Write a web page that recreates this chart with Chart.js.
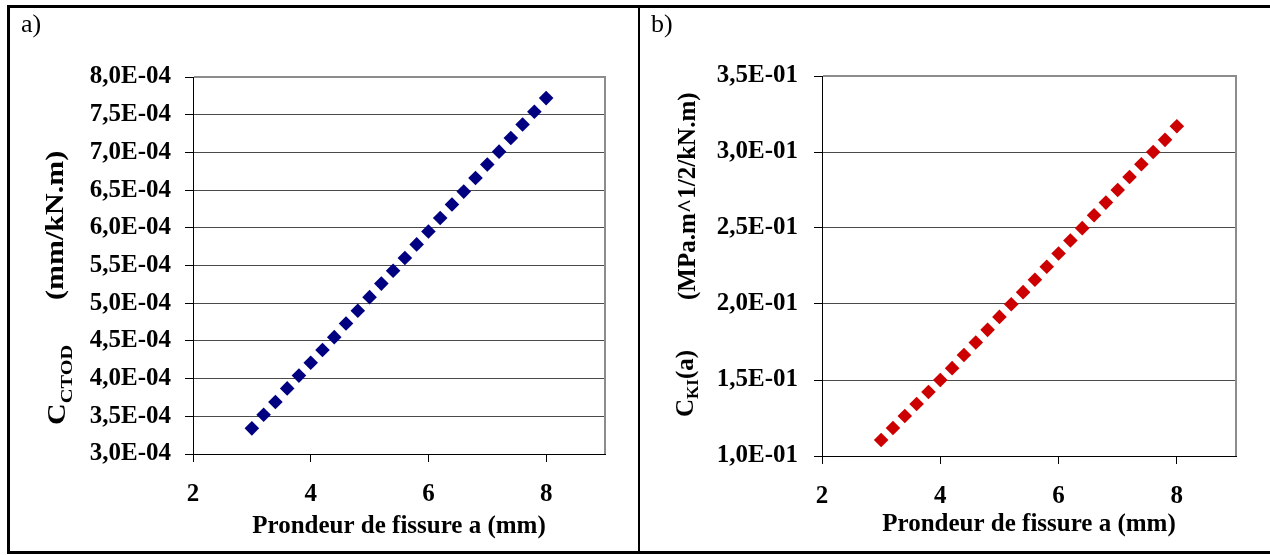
<!DOCTYPE html>
<html>
<head>
    <title>Complaisance CTOD / KI</title>
    <script src="https://cdn.jsdelivr.net/npm/chart.js"></script>
    <style>
        body {
            margin: 0;
            background: #fff;
            font-family: 'Liberation Serif', 'Times New Roman', serif;
        }
        #page {
            position: relative;
            width: 1270px;
            height: 555px;
            overflow: hidden;
        }
        canvas { position: absolute; top: 0; }
        #chartA { left: 0; }
        #chartB { left: 640px; }
        .line { position: absolute; background: #000; }
        .tag {
            position: absolute;
            top: 9px;
            font-size: 26px;
            line-height: 30px;
            color: #000;
        }
    </style>
</head>
<body>
<div id="page">
    <canvas id="chartA" width="640" height="555"></canvas>
    <canvas id="chartB" width="630" height="555"></canvas>
    <div class="line" style="left:7px; top:5px; width:1263px; height:3px;"></div>
    <div class="line" style="left:7px; top:5px; width:3px; height:549px;"></div>
    <div class="line" style="left:7px; top:551px; width:1263px; height:3px;"></div>
    <div class="line" style="left:638px; top:5px; width:2px; height:549px;"></div>
    <div class="tag" style="left:21px;">a)</div>
    <div class="tag" style="left:651px;">b)</div>
</div>

<script>
    const FONT = "'Liberation Serif', 'Times New Roman', serif";

    // crack depth a (mm), same for both panels
    const crackDepth = [3.0, 3.2, 3.4, 3.6, 3.8, 4.0, 4.2, 4.4, 4.6, 4.8, 5.0, 5.2, 5.4,
                        5.6, 5.8, 6.0, 6.2, 6.4, 6.6, 6.8, 7.0, 7.2, 7.4, 7.6, 7.8, 8.0];

    // a) C_CTOD (mm/kN.m)
    const cCtod = [3.34e-4, 3.52e-4, 3.69e-4, 3.87e-4, 4.04e-4, 4.21e-4, 4.38e-4, 4.55e-4, 4.73e-4,
                   4.90e-4, 5.08e-4, 5.26e-4, 5.43e-4, 5.60e-4, 5.78e-4, 5.95e-4, 6.13e-4, 6.31e-4,
                   6.48e-4, 6.66e-4, 6.84e-4, 7.01e-4, 7.19e-4, 7.37e-4, 7.54e-4, 7.72e-4];

    // b) C_KI(a) (MPa.m^1/2/kN.m)
    const cKI = [0.1105, 0.1184, 0.1263, 0.1342, 0.1421, 0.1500, 0.1578, 0.1664, 0.1747,
                 0.1830, 0.1915, 0.1998, 0.2078, 0.2160, 0.2245, 0.2332, 0.2418, 0.2499,
                 0.2584, 0.2667, 0.2750, 0.2836, 0.2919, 0.3000, 0.3080, 0.3169];

    const xTickLabels = ['2', '4', '6', '8'];
    const yTickLabelsA = ['3,0E-04', '3,5E-04', '4,0E-04', '4,5E-04', '5,0E-04', '5,5E-04',
                          '6,0E-04', '6,5E-04', '7,0E-04', '7,5E-04', '8,0E-04'];
    const yTickLabelsB = ['1,0E-01', '1,5E-01', '2,0E-01', '2,5E-01', '3,0E-01', '3,5E-01'];
    const xTitle = 'Prondeur de fissure a (mm)';

    // rotated y title with subscript, drawn by hand
    const yTitlePlugin = {
        id: 'yTitle',
        afterDraw(chart, args, opts) {
            const ctx = chart.ctx;
            opts.pieces.forEach(p => {
                ctx.save();
                ctx.translate(p.x, p.y);
                ctx.rotate(-Math.PI / 2);
                ctx.scale(p.stretch || 1, 1);
                ctx.fillStyle = '#000';
                ctx.textBaseline = 'alphabetic';
                ctx.textAlign = 'left';
                let pos = 0;
                p.runs.forEach(r => {
                    ctx.font = 'bold ' + r.size + 'px ' + FONT;
                    ctx.fillText(r.text, pos, r.dy || 0);
                    pos += ctx.measureText(r.text).width;
                });
                ctx.restore();
            });
        }
    };

    // grey top/right border of the plot area
    const plotFrame = {
        id: 'plotFrame',
        beforeDatasetsDraw(chart) {
            const {ctx, chartArea: a} = chart;
            ctx.save();
            ctx.strokeStyle = '#8c8c8c';
            ctx.lineWidth = 2;
            ctx.beginPath();
            ctx.moveTo(a.left + 1, a.top);
            ctx.lineTo(a.right, a.top);
            ctx.lineTo(a.right, a.bottom);
            ctx.stroke();
            ctx.restore();
        }
    };

    function makeChart(id, data, color, yMin, yMax, yStep, yLabels, pad, titlePieces) {
        const tickFont = { family: FONT, size: 25, weight: 'bold' };
        return new Chart(document.getElementById(id), {
            type: 'scatter',
            data: {
                datasets: [{
                    data: crackDepth.map((x, i) => ({ x: x, y: data[i] })),
                    pointStyle: 'rectRot',
                    pointRadius: 7.3,
                    borderWidth: 0,
                    backgroundColor: color,
                    borderColor: color,
                    showLine: false
                }]
            },
            options: {
                responsive: false,
                animation: false,
                devicePixelRatio: 1,
                layout: { padding: { left: 0, top: pad.top, right: pad.right, bottom: 0 } },
                scales: {
                    x: {
                        type: 'linear',
                        min: 2, max: 9,
                        afterFit: s => { s.height = pad.xHeight; },
                        ticks: {
                            stepSize: 2,
                            includeBounds: false,
                            padding: 18,
                            color: '#000',
                            font: tickFont,
                            callback: (v, i) => xTickLabels[i]
                        },
                        grid: { drawOnChartArea: false, drawTicks: true, tickLength: 8, tickColor: '#000' },
                        border: { color: '#000', width: 1 },
                        title: {
                            display: true,
                            text: xTitle,
                            color: '#000',
                            font: { family: FONT, size: 25, weight: 'bold' },
                            padding: { top: 0, bottom: pad.titleBottom }
                        }
                    },
                    y: {
                        type: 'linear',
                        min: yMin, max: yMax,
                        afterFit: s => { s.width = pad.yWidth; },
                        ticks: {
                            stepSize: yStep,
                            padding: pad.yTickPad,
                            color: '#000',
                            font: tickFont,
                            callback: (v, i) => yLabels[i]
                        },
                        grid: { color: '#4a4a4a', lineWidth: 1, tickLength: 8, tickColor: '#000' },
                        border: { color: '#000', width: 1 }
                    }
                },
                plugins: {
                    legend: { display: false },
                    tooltip: { enabled: false },
                    yTitle: { pieces: titlePieces }
                }
            },
            plugins: [plotFrame, yTitlePlugin]
        });
    }

    makeChart('chartA', cCtod, '#000080', 3.0e-4, 8.0e-4, 0.5e-4, yTickLabelsA,
        { top: 77, right: 35, xHeight: 101, yWidth: 193, yTickPad: 14, titleBottom: 13 },
        [
            { x: 65, y: 425, stretch: 1.2, runs: [
                { text: 'C', size: 25 },
                { text: 'CTOD', size: 17, dy: 7 }
            ] },
            { x: 63, y: 300, stretch: 1.2, runs: [{ text: '(mm/kN.m)', size: 25 }] }
        ]);

    makeChart('chartB', cKI, '#cc0000', 0.10, 0.35, 0.05, yTickLabelsB,
        { top: 76, right: 34, xHeight: 99, yWidth: 182, yTickPad: 16, titleBottom: 15 },
        [
            { x: 53, y: 417, runs: [
                { text: 'C', size: 25 },
                { text: 'KI', size: 17, dy: 5 },
                { text: '(a)', size: 25 }
            ] },
            { x: 55, y: 300, runs: [{ text: '(MPa.m^1/2/kN.m)', size: 25 }] }
        ]);
</script>
</body>
</html>
